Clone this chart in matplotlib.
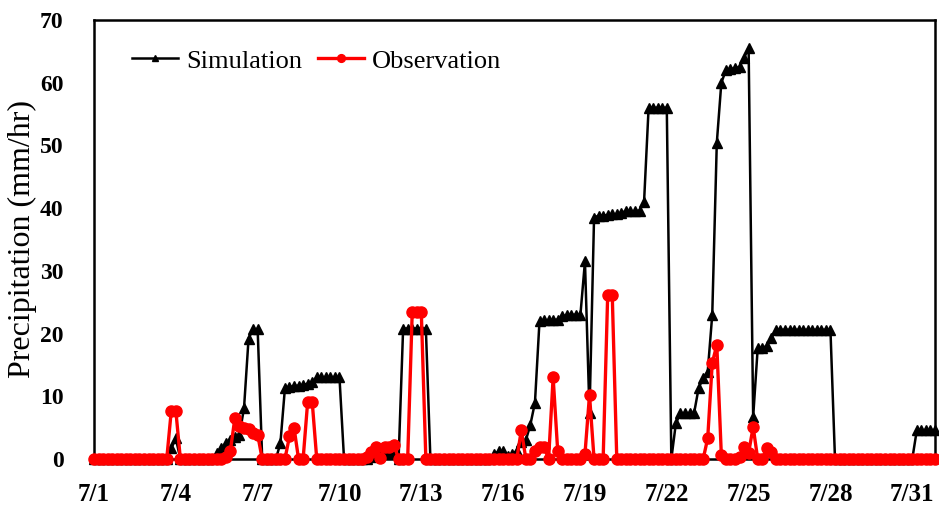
import matplotlib
matplotlib.use("Agg")
import matplotlib.pyplot as plt
import numpy as np

# 4-hourly values, one row per day (7/1 ... 7/31)
simulation = [
    0, 0, 0, 0, 0, 0,
    0, 0, 0, 0, 0, 0,
    0, 0, 0, 0, 0, 1.7,
    3.3, 0, 0, 0, 0, 0,
    0, 0, 0, 1.0, 1.7, 2.5,
    3.0, 3.5, 3.9, 8.1, 19.2, 20.7,
    20.7, 0, 0, 0, 0, 2.5,
    11.3, 11.5, 11.6, 11.7, 11.8, 12.0,
    12.3, 13.0, 13.0, 13.0, 13.0, 13.0,
    13.0, 0, 0, 0, 0, 0,
    0, 0.3, 0.8, 1.0, 1.0, 1.2,
    1.0, 0, 20.8, 20.8, 20.8, 20.8,
    20.8, 20.8, 0, 0, 0, 0,
    0, 0, 0, 0, 0, 0,
    0, 0, 0, 0, 0.8, 1.2,
    1.2, 0.5, 0.8, 1.3, 2.7, 3.0,
    5.5, 9.0, 22.0, 22.1, 22.1, 22.2,
    22.2, 22.8, 22.9, 23.0, 23.0, 23.0,
    31.5, 7.3, 38.5, 38.8, 38.8, 38.9,
    39.0, 39.0, 39.3, 39.5, 39.5, 39.5,
    39.6, 41.0, 56.0, 56.0, 56.0, 56.0,
    56.0, 0, 5.7, 7.3, 7.3, 7.3,
    7.3, 11.3, 12.9, 13.9, 23.0, 50.4,
    60.0, 62.0, 62.2, 62.3, 62.5, 64.0,
    65.5, 6.7, 17.7, 17.7, 18.0, 19.3,
    20.6, 20.6, 20.6, 20.6, 20.6, 20.6,
    20.6, 20.6, 20.6, 20.6, 20.6, 20.6,
    20.6, 0, 0, 0, 0, 0,
    0, 0, 0, 0, 0, 0,
    0, 0, 0, 0, 0, 0,
    0, 4.6, 4.6, 4.6, 4.6, 4.6,
]

observation = [
    0, 0, 0, 0, 0, 0,
    0, 0, 0, 0, 0, 0,
    0, 0, 0, 0, 0, 7.7,
    7.7, 0, 0, 0, 0, 0,
    0, 0, 0, 0, 0, 0.3,
    1.3, 6.6, 5.2, 5.0, 4.8, 4.2,
    3.9, 0, 0, 0, 0, 0,
    0, 3.6, 5.0, 0, 0, 9.1,
    9.1, 0, 0, 0, 0, 0,
    0, 0, 0, 0, 0, 0,
    0.3, 1.1, 1.9, 0.2, 1.9, 1.9,
    2.2, 0, 0, 0, 23.4, 23.4,
    23.4, 0, 0, 0, 0, 0,
    0, 0, 0, 0, 0, 0,
    0, 0, 0, 0, 0, 0,
    0, 0, 0, 0, 4.6, 0,
    0, 1.2, 1.9, 1.9, 0, 13.0,
    1.3, 0, 0, 0, 0, 0,
    0.8, 10.2, 0, 0, 0, 26.2,
    26.2, 0, 0, 0, 0, 0,
    0, 0, 0, 0, 0, 0,
    0, 0, 0, 0, 0, 0,
    0, 0, 0, 3.3, 15.3, 18.2,
    0.6, 0, 0, 0, 0.3, 1.9,
    1.0, 5.1, 0, 0, 1.7, 1.1,
    0, 0, 0, 0, 0, 0,
    0, 0, 0, 0, 0, 0,
    0, 0, 0, 0, 0, 0,
    0, 0, 0, 0, 0, 0,
    0, 0, 0, 0, 0, 0,
    0, 0, 0, 0, 0, 0,
]

steps_per_day = 6
tick_days = [0, 3, 6, 9, 12, 15, 18, 21, 24, 27, 30]
tick_labels = ["7/1", "7/4", "7/7", "7/10", "7/13", "7/16", "7/19",
               "7/22", "7/25", "7/28", "7/31"]
y_ticks = [0, 10, 20, 30, 40, 50, 60, 70]

plt.rcParams['font.family'] = ['Liberation Serif', 'DejaVu Serif']

t = np.arange(len(simulation)) / steps_per_day

fig = plt.figure(figsize=(9.39, 5.07), dpi=100)
ax = fig.add_axes([94/939, 1 - 459/507, (935-94)/939, (459-20)/507])

ax.plot(t, simulation, color='black', lw=1.8, marker='^', ms=6.5,
        label='Simulation', clip_on=False, zorder=3)
ax.plot(t, observation, color='#ff0000', lw=2.4, marker='o', ms=8,
        label='Observation', clip_on=False, zorder=4)

ax.set_xlim(t[0], t[-1])
ax.set_ylim(0, 70)
ax.set_xticks(tick_days)
ax.set_xticklabels(tick_labels)
ax.set_yticks(y_ticks)
ax.tick_params(axis='x', length=0, pad=17, labelsize=18)
ax.tick_params(axis='y', length=0, pad=22, labelsize=17)
for lab in ax.get_xticklabels() + ax.get_yticklabels():
    lab.set_fontweight('bold')
for s in ax.spines.values():
    s.set_linewidth(1.8)
    s.set_color('black')

ax.set_ylabel('Precipitation (mm/hr)', fontsize=23, labelpad=2)

leg = ax.legend(loc='center left', bbox_to_anchor=(0.045, 0.907), ncol=2,
                frameon=False, fontsize=19, handlelength=1.75,
                handletextpad=0.3, columnspacing=0.6, borderpad=0,
                borderaxespad=0, markerscale=0.7)

fig.savefig('out.png', dpi=100)
